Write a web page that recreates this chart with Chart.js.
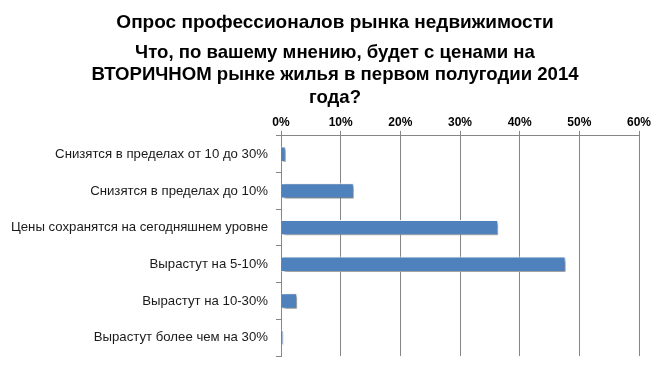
<!DOCTYPE html>
<html lang="ru">
<head>
  <meta charset="UTF-8">
  <title>Опрос профессионалов рынка недвижимости</title>
  <script src="https://cdn.jsdelivr.net/npm/chart.js"></script>
  <style>
    body {
      margin: 0;
      background: #fff;
    }
    #wrap {
      width: 667px;
      height: 372px;
    }
  </style>
</head>
<body>
  <div id="wrap"><canvas id="grafico"></canvas></div>

  <script>
    const categorias = [
      'Снизятся в пределах от 10 до 30%',
      'Снизятся в пределах до 10%',
      'Цены сохранятся на сегодняшнем уровне',
      'Вырастут на 5-10%',
      'Вырастут на 10-30%',
      'Вырастут более чем на 30%'
    ];
    const valores = [0.8, 12.2, 36.4, 47.7, 2.7, 0.4];
    const ticksX = [0, 10, 20, 30, 40, 50, 60];

    // тень под столбиками, как в Excel
    const sombra = {
      id: 'sombra',
      beforeDatasetsDraw(chart) {
        const ctx = chart.ctx;
        ctx.save();
        ctx.shadowColor = 'rgba(0,0,0,0.5)';
        ctx.shadowOffsetX = 2;
        ctx.shadowOffsetY = 2;
        ctx.shadowBlur = 3;
      },
      afterDatasetsDraw(chart) {
        chart.ctx.restore();
      }
    };

    new Chart(document.getElementById('grafico'), {
      type: 'bar',
      data: {
        labels: categorias,
        datasets: [{
          data: valores,
          backgroundColor: '#4F81BD',
          borderColor: '#ffffff',
          borderWidth: 1,
          barPercentage: 0.42,
          categoryPercentage: 1
        }]
      },
      options: {
        indexAxis: 'y',
        responsive: true,
        maintainAspectRatio: false,
        animation: false,
        layout: { padding: { left: 3, right: 0, top: 0, bottom: 16 } },
        plugins: {
          legend: { display: false },
          tooltip: { enabled: false },
          title: {
            display: true,
            text: 'Опрос профессионалов рынка недвижимости',
            color: '#000',
            font: { family: 'Liberation Sans, Arial', size: 19, weight: 'bold', lineHeight: 1.2 },
            padding: { top: 11, bottom: 5 }
          },
          subtitle: {
            display: true,
            text: ['Что, по вашему мнению, будет с ценами на', 'ВТОРИЧНОМ рынке жилья в первом полугодии 2014', 'года?'],
            color: '#000',
            font: { family: 'Liberation Sans, Arial', size: 18.6, weight: 'bold', lineHeight: 1.22 },
            padding: { top: 2.5, bottom: 0 }
          }
        },
        scales: {
          x: {
            position: 'top',
            min: 0,
            max: 60,
            afterBuildTicks(scale) {
              scale.ticks = ticksX.map(v => ({ value: v }));
            },
            afterFit(scale) {
              scale.height = 26.5;
              scale.paddingRight = 28;
            },
            grid: { color: '#868686', tickLength: 5, tickColor: '#868686' },
            border: { color: '#868686' },
            ticks: {
              padding: 1,
              color: '#000',
              font: { family: 'Liberation Sans, Arial', size: 12, weight: 'bold' },
              callback: v => v + '%'
            }
          },
          y: {
            afterFit(scale) {
              scale.width = 278;
            },
            grid: { offset: true, drawOnChartArea: false, color: '#868686', tickLength: 5 },
            border: { color: '#868686' },
            ticks: {
              padding: 8,
              color: '#1a1a1a',
              font: { family: 'Liberation Sans, Arial', size: 13.2 }
            }
          }
        }
      },
      plugins: [sombra]
    });
  </script>
</body>
</html>
